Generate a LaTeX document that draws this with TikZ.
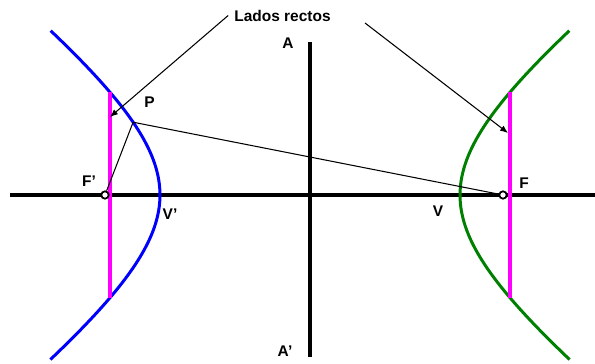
\documentclass[tikz,border=0pt]{standalone}
\usepackage{fontspec}
\setmainfont{Liberation Sans}
\usetikzlibrary{arrows.meta}
\definecolor{rosa}{RGB}{255,0,255}
\definecolor{verde}{RGB}{0,128,0}

\begin{document}
\begin{tikzpicture}[
    lbl/.style={font=\fontsize{8.8}{10}\selectfont\bfseries},
    axis/.style={line width=1.8pt},
    branch/.style={line width=1.7pt, domain=-1.145:1.145, samples=80, smooth},
    lado/.style={rosa, line width=1.8pt},
    fino/.style={line width=0.6pt},
    flecha/.style={fino, -{Latex[length=4.5pt,width=3.6pt]}},
    foco/.style={circle, draw, line width=1pt, fill=white, inner sep=0pt, minimum size=4.2pt}]
  \useasboundingbox (-6.2,-3.38) rectangle (5.7,3.9);

  % Ejes
  \coordinate (xl) at (-6,0);
  \coordinate (xr) at (5.7,0);
  \coordinate (yt) at (0,3.06);
  \coordinate (yb) at (0,-3.24);
  \draw[axis] (xl) -- (xr);
  \draw[axis] (yt) -- (yb);
  \node[lbl] (A) at (-0.44,3.04) {A};
  \node[lbl] (A2) at (-0.5,-3.12) {A'};

  % Rama izquierda
  \draw[branch, blue] plot ({-3*cosh(\x)}, {2.33*sinh(\x)});
  \coordinate (ladoLt) at (-4,2.055);
  \coordinate (ladoLb) at (-4,-2.055);
  \draw[lado] (ladoLt) -- (ladoLb);
  \node[lbl] (Vp) at (-2.8,-0.38) {V'};
  \node[lbl] (Fplbl) at (-4.42,0.28) {F'};

  % Rama derecha
  \draw[branch, verde] plot ({3*cosh(\x)}, {2.33*sinh(\x)});
  \coordinate (ladoRt) at (4,2.055);
  \coordinate (ladoRb) at (4,-2.055);
  \draw[lado] (ladoRt) -- (ladoRb);
  \node[lbl] (V) at (2.56,-0.32) {V};
  \node[lbl] (Flbl) at (4.28,0.24) {F};

  % Focos y punto P
  \node[foco] (Fp) at (-4.1,0) {};
  \node[foco] (F) at (3.86,0) {};
  \coordinate (P) at ({-3*cosh(0.59)},{2.33*sinh(0.59)});
  \node[lbl] (Plbl) at (-3.21,1.86) {P};
  \draw[fino] (P) -- (Fp);
  \draw[fino] (P) -- (F);

  % Lados rectos
  \node[lbl] (lados) at (-0.55,3.59) {Lados rectos};
  \coordinate (tipL) at (-4.0,1.56);
  \coordinate (startR) at (1.1,3.44);
  \coordinate (tipR) at (3.96,1.24);
  \draw[flecha] (lados.west) -- (tipL);
  \draw[flecha] (startR) -- (tipR);
\end{tikzpicture}
\end{document}
